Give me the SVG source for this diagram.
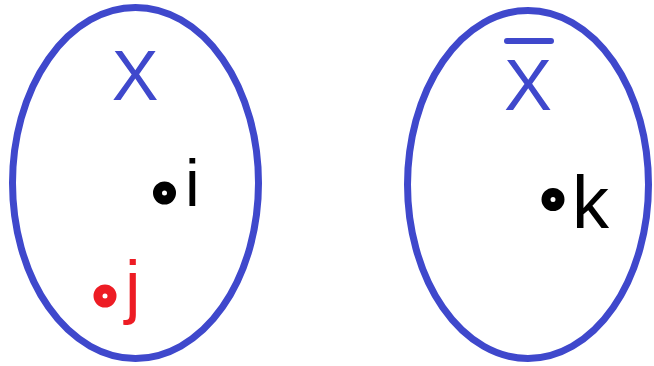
<svg xmlns="http://www.w3.org/2000/svg" width="654" height="366" viewBox="0 0 654 366">
  <style>
    .set { fill: none; stroke: #3f48cc; stroke-width: 7; }
    .setlabel { font-family: "Liberation Sans", Arial, sans-serif; fill: #3f48cc; text-anchor: middle; }
    .lbl { font-family: "Liberation Sans", Arial, sans-serif; }
    .pt { fill: none; stroke-width: 9; }
  </style>
  <rect width="654" height="366" fill="#ffffff"/>
  <g id="set-X">
    <ellipse class="set" cx="135.5" cy="183" rx="123" ry="175.5"/>
    <text class="setlabel" x="135" y="100" font-size="70">X</text>
  </g>
  <g id="set-Xbar">
    <ellipse class="set" cx="528" cy="184.5" rx="120.5" ry="174"/>
    <line x1="507" y1="41" x2="551" y2="41" stroke="#3f48cc" stroke-width="6" stroke-linecap="round"/>
    <text class="setlabel" x="528" y="110" font-size="72">X</text>
  </g>
  <g id="point-i">
    <circle class="pt" cx="164.5" cy="193" r="7" stroke="#000000"/>
    <text class="lbl" x="185" y="206" font-size="66" fill="#000000">i</text>
  </g>
  <g id="point-j">
    <circle class="pt" cx="105" cy="296" r="7" stroke="#ed1c24"/>
    <text class="lbl" x="125" y="310" font-size="70" fill="#ed1c24">j</text>
  </g>
  <g id="point-k">
    <circle class="pt" cx="553" cy="199.5" r="7" stroke="#000000"/>
    <text class="lbl" x="572" y="228" font-size="74" fill="#000000">k</text>
  </g>
</svg>
